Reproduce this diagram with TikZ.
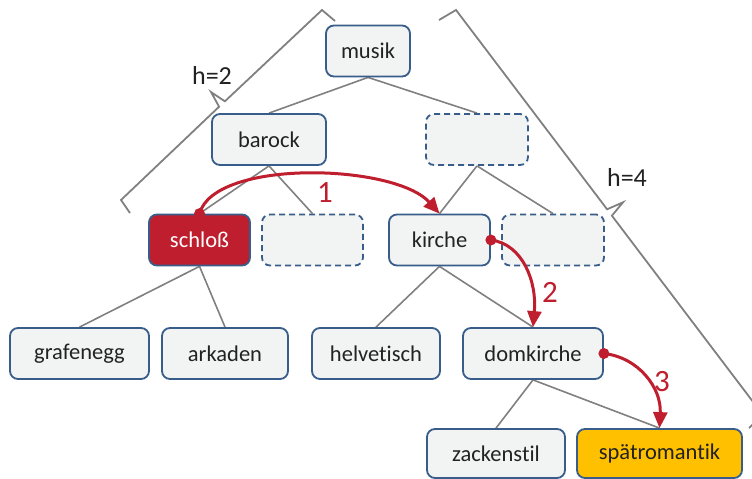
\documentclass[tikz,border=0pt]{standalone}
\usepackage{fontspec}
\setmainfont{Carlito}[Ligatures=NoCommon]
\usetikzlibrary{arrows.meta}
\pgfdeclarelayer{back}
\pgfsetlayers{back,main}
\definecolor{boxfill}{RGB}{242,243,243}
\definecolor{boxline}{RGB}{56,93,138}
\definecolor{hotred}{RGB}{190,30,45}
\definecolor{gold}{RGB}{255,192,0}
\definecolor{linegray}{RGB}{128,128,128}
\definecolor{ink}{RGB}{34,34,34}
\begin{document}
\begin{tikzpicture}[x=1pt,y=-1pt,
  box/.style={draw=boxline, line width=1.8pt, fill=boxfill, rounded corners=8pt,
    minimum height=51pt, inner sep=0pt, text=ink, font=\fontsize{22.5}{26}\selectfont},
  ghost/.style={box, dash pattern=on 6pt off 4pt},
  edge/.style={draw=linegray, line width=1.6pt},
  bracestroke/.style={draw=linegray, line width=1.8pt, line join=miter},
  hop/.style={draw=hotred, line width=3pt, -{Triangle[length=16pt,width=14pt]}},
  hopdot/.style={fill=hotred},
  numlabel/.style={text=hotred, font=\fontsize{31}{35}\selectfont, inner sep=0pt},
  hlabel/.style={text=ink, font=\fontsize{26}{30}\selectfont, inner sep=0pt}]
\useasboundingbox (0,0) rectangle (752,479);

% level 0
\node[box, minimum width=84pt] (musik) at (368,51) {musik};
% level 1
\node[box, minimum width=114pt] (barock) at (269,139.5) {barock};
\node[ghost, minimum width=102pt] (g1) at (477,139.5) {};
% level 2
\node[box, minimum width=101pt, fill=hotred, text=white] (schloss) at (199.5,240) {schloß};
\node[ghost, minimum width=101pt] (g2) at (312.5,240) {};
\node[box, minimum width=101pt] (kirche) at (439.5,240) {kirche};
\node[ghost, minimum width=102pt] (g3) at (553,240) {};
% level 3
\node[box, minimum width=139pt] (grafenegg) at (79.5,353.5) {grafenegg};
\node[box, minimum width=126pt] (arkaden) at (225,353.5) {arkaden};
\node[box, minimum width=128pt] (helvetisch) at (376,353.5) {helvetisch};
\node[box, minimum width=140pt] (domkirche) at (533,353.5) {domkirche};
% level 4
\node[box, minimum width=138pt, minimum height=49pt] (zackenstil) at (496,453.5) {zackenstil};
\node[box, minimum width=165pt, minimum height=49pt, fill=gold] (spaet) at (659.5,453.5) {spätromantik};

% tree edges
\begin{pgfonlayer}{back}
  \draw[edge] (musik.south) -- (barock.north);
  \draw[edge] (musik.south) -- (g1.north);
  \draw[edge] (barock.south) -- (schloss.north);
  \draw[edge] (barock.south) -- (g2.north);
  \draw[edge] (g1.south) -- (kirche.north);
  \draw[edge] (g1.south) -- (g3.north);
  \draw[edge] (schloss.south) -- (grafenegg.north);
  \draw[edge] (schloss.south) -- (arkaden.north);
  \draw[edge] (kirche.south) -- (helvetisch.north);
  \draw[edge] (kirche.south) -- (domkirche.north);
  \draw[edge] (domkirche.south) -- (zackenstil.north);
  \draw[edge] (domkirche.south) -- (spaet.north);
\end{pgfonlayer}

% height braces
\coordinate (la) at (130,213);
\coordinate (lb) at (121,200);
\coordinate (lc) at (219.1,106.7);
\coordinate (ltip) at (211,92);
\coordinate (ld) at (224.9,101.3);
\coordinate (le) at (322,10);
\coordinate (lf) at (335,21);
\draw[bracestroke] (la) -- (lb) -- (lc) -- (ltip) -- (ld) -- (le) -- (lf);
\node[hlabel] (h2) at (212,75) {h=2};

\coordinate (ra) at (439,20);
\coordinate (rb) at (456,10);
\coordinate (rc) at (607.1,209.3);
\coordinate (rtip) at (623,202.3);
\coordinate (rd) at (611.9,215.7);
\coordinate (re) at (763,415);
\coordinate (rf) at (749,428);
\draw[bracestroke] (ra) -- (rb) -- (rc) -- (rtip) -- (rd) -- (re) -- (rf);
\node[hlabel] (h4) at (627,177) {h=4};

% search steps
\draw[hop] (schloss.north) .. controls +(15,-55) and +(-45,-50) .. (kirche.north);
\fill[hopdot] (schloss.north) circle (5.5pt);
\node[numlabel] (s1) at (325,193) {1};

\draw[hop] (kirche.east) .. controls +(32,4) and +(4,-45) .. (domkirche.north);
\fill[hopdot] (kirche.east) circle (5.5pt);
\node[numlabel] (s2) at (550,292) {2};

\draw[hop] (domkirche.east) .. controls +(35,4) and +(2,-40) .. (spaet.north);
\fill[hopdot] (domkirche.east) circle (5.5pt);
\node[numlabel] (s3) at (662,382) {3};
\end{tikzpicture}
\end{document}
